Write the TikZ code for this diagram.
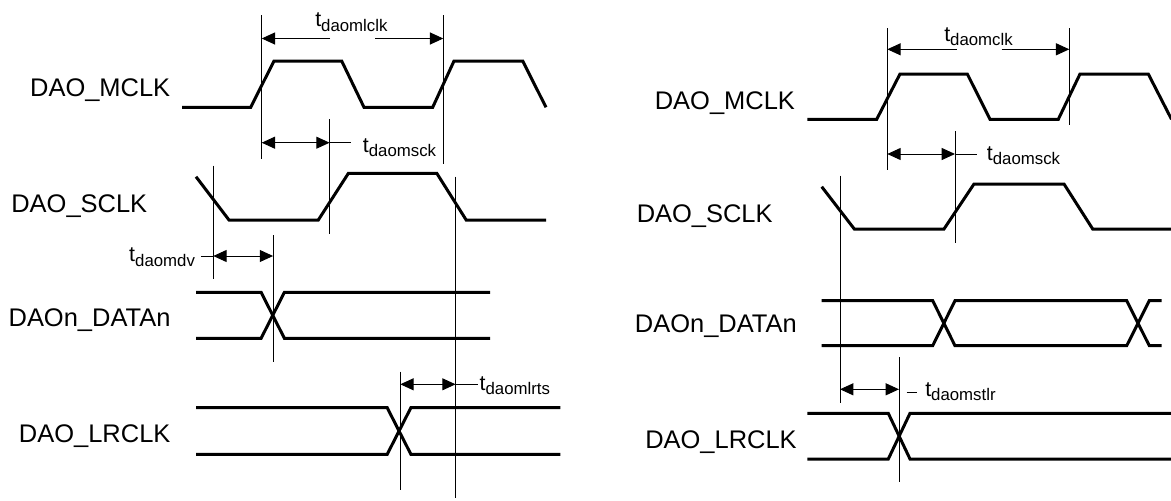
\documentclass[tikz,border=0pt]{standalone}
\usepackage{fontspec}
\setmainfont{Liberation Sans}
\usetikzlibrary{arrows.meta}
\newcommand{\tsub}[1]{{\fontsize{16}{19}\selectfont t}{\fontsize{12.6}{14}\selectfont\raisebox{-3.6pt}{#1}}}
\begin{document}
\begin{tikzpicture}[x=0.75pt,y=-0.75pt,
  sig/.style={line width=2.25pt, line join=miter},
  guide/.style={line width=0.7pt},
  dim/.style={line width=0.75pt, {Triangle[length=10pt,width=9pt]}-{Triangle[length=10pt,width=9pt]}},
  dimr/.style={line width=0.75pt, -{Triangle[length=10pt,width=9pt]}},
  lead/.style={line width=0.75pt},
  lbl/.style={font=\fontsize{19.1}{22}\selectfont, inner sep=0pt, anchor=base east},
  tlbl/.style={inner sep=0pt, anchor=base west},
  tlble/.style={inner sep=0pt, anchor=base east}]
\useasboundingbox (0,0) rectangle (1171,500);
\clip (0,0) rectangle (1171,500);

% ================= LEFT DIAGRAM =================
\node[lbl] (lmclk) at (170.5,96) {DAO\_MCLK};
\node[lbl] (lsclk) at (147.5,212.5) {DAO\_SCLK};
\node[lbl] (ldata) at (170.7,326) {DAOn\_DATAn};
\node[lbl] (llr) at (170.7,442.6) {DAO\_LRCLK};

% waveforms
\draw[sig] (182,107.3)--(250.7,107.3)--(274,61)--(341.7,61)--(364,107.3)--(432.7,107.3)--(454,61)--(522.7,61)--(546,107.3);
\draw[sig] (196,176.7)--(229,220)--(318.3,220)--(348.4,173.3)--(436.8,173.3)--(466.2,220)--(546,220);
\draw[sig] (196,292.3)--(261.1,292.3)--(284.4,338.3)--(490,338.3);
\draw[sig] (196,338.3)--(261.1,338.3)--(284.4,292.3)--(490,292.3);
\draw[sig] (196,407.7)--(387.2,407.7)--(410.9,454.3)--(560.3,454.3);
\draw[sig] (196,454.3)--(387.2,454.3)--(410.9,407.7)--(560.3,407.7);

% guide lines
\coordinate (lv1t) at (261.7,15);   \coordinate (lv1b) at (261.7,159.3);
\coordinate (lv2t) at (443.3,15);   \coordinate (lv2b) at (443.3,164);
\coordinate (lv3t) at (329.6,119.3); \coordinate (lv3b) at (329.6,234.3);
\coordinate (lv4t) at (213.3,165.7); \coordinate (lv4b) at (213.3,279.3);
\coordinate (lv5t) at (455.6,176.7); \coordinate (lv5b) at (455.6,498);
\coordinate (lv6t) at (273.1,235);  \coordinate (lv6b) at (273.1,361.7);
\coordinate (lv7t) at (400.3,371.7); \coordinate (lv7b) at (400.3,490);
\foreach \a in {lv1,lv2,lv3,lv4,lv5,lv6,lv7} \draw[guide] (\a t)--(\a b);

% t_daomlclk
\node[tlbl] (tlclk) at (315,26.7) {\tsub{daomlclk}};
\coordinate (lclka) at (261.7,38.5); \coordinate (lclkb) at (330,38.5);
\coordinate (lclkc) at (375,38.5);   \coordinate (lclkd) at (443.3,38.5);
\draw[dimr] (lclkb)--(lclka);
\draw[dimr] (lclkc)--(lclkd);

% t_daomsck
\node[tlbl] (tlsck) at (362.7,152) {\tsub{daomsck}};
\coordinate (lscka) at (261.7,142.7); \coordinate (lsckb) at (329.6,142.7);
\coordinate (lsckc) at (351.4,142.7);
\draw[dim] (lscka)--(lsckb);
\draw[lead] (lsckb)--(lsckc);

% t_daomdv
\node[tlble] (tldv) at (195.2,261.5) {\tsub{daomdv}};
\coordinate (ldva) at (200.9,256); \coordinate (ldvb) at (213.3,256);
\coordinate (ldvc) at (273.1,256);
\draw[lead] (ldva)--(ldvb);
\draw[dim] (ldvb)--(ldvc);

% t_daomlrts
\node[tlbl] (tllr) at (479.4,390) {\tsub{daomlrts}};
\coordinate (llra) at (400.3,384.3); \coordinate (llrb) at (455.6,384.3);
\coordinate (llrc) at (477.5,384.3);
\draw[dim] (llra)--(llrb);
\draw[lead] (llrb)--(llrc);

% ================= RIGHT DIAGRAM =================
\node[lbl] (rmclk) at (795.2,109.3) {DAO\_MCLK};
\node[lbl] (rsclk) at (772.9,222.6) {DAO\_SCLK};
\node[lbl] (rdata) at (797,332.6) {DAOn\_DATAn};
\node[lbl] (rlr) at (797,448.6) {DAO\_LRCLK};

\draw[sig] (807.3,119.3)--(876.7,119.3)--(900,74)--(967.3,74)--(990,119.3)--(1058.3,119.3)--(1080,74)--(1148.3,74)--(1171.5,119.3);
\draw[sig] (821.7,186.7)--(854.3,229)--(944,229)--(974,184)--(1064,184)--(1092.7,229)--(1175,229);
\draw[sig] (821.7,300.7)--(932.7,300.7)--(955,345.7)--(1126.7,345.7)--(1149.3,300.7)--(1161.7,300.7);
\draw[sig] (821.7,345.7)--(932.7,345.7)--(955,300.7)--(1126.7,300.7)--(1149.3,345.7)--(1161.7,345.7);
\draw[sig] (807.3,413.3)--(888.3,413.3)--(910,459)--(1175,459);
\draw[sig] (807.3,459)--(888.3,459)--(910,413.3)--(1175,413.3);

\coordinate (rv1t) at (887.3,28);  \coordinate (rv1b) at (887.3,170);
\coordinate (rv2t) at (1069.3,28); \coordinate (rv2b) at (1069.3,125);
\coordinate (rv3t) at (955,131);   \coordinate (rv3b) at (955,243);
\coordinate (rv4t) at (840,175.7); \coordinate (rv4b) at (840,402.7);
\coordinate (rv5t) at (899,357);   \coordinate (rv5b) at (899,481.7);
\foreach \a in {rv1,rv2,rv3,rv4,rv5} \draw[guide] (\a t)--(\a b);

% t_daomclk
\node[tlbl] (trclk) at (944,41) {\tsub{daomclk}};
\coordinate (rclka) at (887.3,49.3); \coordinate (rclkb) at (956.7,49.3);
\coordinate (rclkc) at (1001.7,49.3); \coordinate (rclkd) at (1069.3,49.3);
\draw[dimr] (rclkb)--(rclka);
\draw[dimr] (rclkc)--(rclkd);

% t_daomsck
\node[tlbl] (trsck) at (986.7,160) {\tsub{daomsck}};
\coordinate (rscka) at (887.3,154); \coordinate (rsckb) at (955,154);
\coordinate (rsckc) at (976.7,154);
\draw[dim] (rscka)--(rsckb);
\draw[lead] (rsckb)--(rsckc);

% t_daomstlr
\node[tlbl] (trst) at (925,396) {\tsub{daomstlr}};
\coordinate (rsta) at (840,389.3); \coordinate (rstb) at (899,389.3);
\coordinate (rstc) at (906.7,392); \coordinate (rstd) at (916.7,392);
\draw[dim] (rsta)--(rstb);
\draw[lead] (rstc)--(rstd);
\end{tikzpicture}
\end{document}
